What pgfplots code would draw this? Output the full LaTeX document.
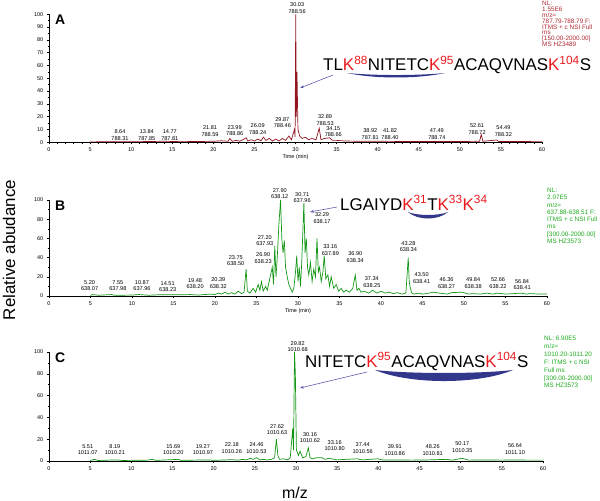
\documentclass[border=0pt]{standalone}
\usepackage{pgfplots}
\pgfplotsset{compat=1.18}
\usepackage{fontspec}
\setmainfont{Liberation Sans}
\usetikzlibrary{arrows.meta}

\definecolor{tracered}{RGB}{145,22,32}
\definecolor{textred}{RGB}{175,40,50}
\definecolor{tracegreen}{RGB}{20,150,20}
\definecolor{textgreen}{RGB}{30,170,30}
\definecolor{kred}{RGB}{235,25,30}
\definecolor{arcblue}{RGB}{50,55,140}
\definecolor{arrowblue}{RGB}{95,95,175}

\newcommand{\K}[1]{\textcolor{kred}{K\textsuperscript{#1}}}

\tikzset{pk/.style={font=\fontsize{5.6}{6.4}\selectfont, align=center, inner sep=0pt}}

\pgfplotsset{
  chrom/.style={
    scale only axis,
    anchor=south west,
    axis lines=left,
    axis line style={-, line width=0.5pt},
    xmin=0, xmax=60, ymin=0, ymax=100,
    xtick={0,5,...,60},
    minor x tick num=4,
    tick align=outside,
    major tick length=2.2bp,
    minor tick length=1.4bp,
    tick style={black, line width=0.4pt},
    ticklabel style={font=\fontsize{5.5}{6}\selectfont},
    /pgf/number format/assume math mode=true,
    xtick pos=bottom, ytick pos=left,
    clip=false,
    xlabel style={font=\fontsize{5.5}{6}\selectfont, yshift=4bp},
  },
}

\begin{document}
\begin{tikzpicture}
\path[use as bounding box] (0,0) rectangle (600bp,501bp);

% ---------- panel A ----------
\begin{axis}[chrom, at={(49bp,358.7bp)}, width=493bp, height=128bp,
  ytick={0,10,...,100}, minor y tick num=1, xlabel={Time (min)}]
\addplot[tracered, line width=0.7pt] coordinates {
  (5,0.3)(8,0.5)(10,0.4)(12,0.6)(14,0.8)(16,0.5)(18,0.6)(20,0.8)(21,1.2)
  (21.8,0.8)(22,3)(22.3,0.8)(22.8,1.5)(23.2,0.8)(23.6,2)(24,3.5)(24.2,1)
  (24.6,2)(25,1)(25.4,2.5)(25.8,1.2)(26.1,4)(26.4,1.5)(26.8,3)(27.2,1)
  (27.6,2.5)(28,1)(28.4,3)(28.8,1.5)(29.2,5)(29.5,2)(29.87,10)(29.95,4)
  (30.03,100)(30.1,20)(30.18,55)(30.3,10)(30.5,5)(30.8,3)(31.2,4)(31.6,2)
  (32,3)(32.5,2)(32.89,11)(33.1,2)(33.5,3)(34.15,3.5)(34.5,1.5)(35,1.5)
  (36,1)(38,0.8)(40,0.8)(42,0.7)(45,0.6)(48,0.7)(50,0.6)(52.4,0.8)
  (52.61,6)(52.8,0.8)(54.49,1.8)(54.7,0.7)(57,0.6)(60,0.5)
};
\node[pk] at (axis cs:8.64,5.7) {8.64\\788.31};
\node[pk] at (axis cs:11.9,5.7) {13.84\\787.85};
\node[pk] at (axis cs:14.7,5.7) {14.77\\787.81};
\node[pk] at (axis cs:19.6,8.8) {21.81\\788.59};
\node[pk] at (axis cs:22.6,9.2) {23.99\\788.86};
\node[pk] at (axis cs:25.4,10.4) {26.09\\788.24};
\node[pk] at (axis cs:28.4,15.4) {29.87\\788.46};
\node[pk] at (axis cs:30.2,105) {30.03\\788.56};
\node[pk] at (axis cs:33.6,17.4) {32.89\\788.53};
\node[pk] at (axis cs:34.6,8.4) {34.15\\788.66};
\node[pk] at (axis cs:39.1,6.5) {38.92\\787.81};
\node[pk] at (axis cs:41.5,6.5) {41.82\\788.40};
\node[pk] at (axis cs:47.2,6.5) {47.49\\788.74};
\node[pk] at (axis cs:52.1,10.4) {52.61\\788.72};
\node[pk] at (axis cs:55.3,8.8) {54.49\\788.32};
\end{axis}

% ---------- panel B ----------
\begin{axis}[chrom, at={(49bp,205bp)}, width=498bp, height=96bp,
  ytick={0,20,...,100}, minor y tick num=1, xlabel={Time (min)}]
\addplot[tracegreen, line width=0.7pt] coordinates {
  (5,0.5)(5.2,1.5)(6,0.8)(7.55,1.5)(8,0.7)(10,1)(10.87,1.5)(12,0.8)(13,1.2)
  (14.51,1.3)(16,1.2)(17,1.5)(18,1)(19.48,2)(20,1.5)(20.39,3)(20.8,2)(21.2,4)
  (21.6,2)(22,3.5)(22.4,2)(22.8,5)(23.2,2.5)(23.5,4)(23.75,28)(23.9,5)
  (24.2,3)(24.6,8)(24.9,4)(25.2,12)(25.4,6)(25.6,15)(25.8,5)(26.1,10)
  (26.3,6)(26.6,18)(26.9,30)(27.05,12)(27.2,52)(27.35,20)(27.5,40)(27.7,75)
  (27.9,100)(28.05,60)(28.2,45)(28.35,58)(28.5,30)(28.7,20)(28.9,12)(29.1,8)
  (29.3,4)(29.5,8)(29.7,25)(29.85,42)(30,15)(30.15,30)(30.3,10)(30.45,35)
  (30.71,97)(30.85,45)(31.0,60)(31.15,30)(31.3,22)(31.5,35)(31.7,15)
  (31.9,28)(32.1,20)(32.29,60)(32.45,25)(32.6,30)(32.8,15)(33.0,25)
  (33.16,42)(33.35,18)(33.6,22)(33.8,10)(34.0,20)(34.3,8)(34.6,12)(34.9,5)
  (35.2,8)(35.5,4)(35.8,6)(36.2,4)(36.6,8)(36.9,22)(37.1,6)(37.34,8)
  (37.6,4)(38,5)(38.5,3)(39,6)(39.5,3)(40,5)(40.5,3)(41,4)(41.5,2.5)
  (42,3.5)(42.5,2)(43,3)(43.28,40)(43.4,15)(43.5,10)(43.7,3)(44,2)(44.5,3)
  (45,2)(45.5,2.5)(46.36,4)(47,3)(48,2)(48.5,3.5)(49.84,4)(50.5,2)(51,2.5)
  (52,2)(52.66,3)(53.5,2)(54,3)(55,2)(56,2.5)(56.84,3)(57.5,2)(58,2.5)
  (59,2)(60,2)
};
\node[pk] at (axis cs:4.9,10.9) {5.20\\638.07};
\node[pk] at (axis cs:8.3,10.9) {7.55\\637.98};
\node[pk] at (axis cs:11.2,10.9) {10.87\\637.96};
\node[pk] at (axis cs:14.3,9.9) {14.51\\638.23};
\node[pk] at (axis cs:17.6,13) {19.48\\638.20};
\node[pk] at (axis cs:20.4,13.5) {20.39\\638.32};
\node[pk] at (axis cs:22.5,37) {23.75\\638.50};
\node[pk] at (axis cs:25.8,39.6) {26.90\\638.23};
\node[pk] at (axis cs:26,58) {27.20\\637.93};
\node[pk] at (axis cs:27.8,107) {27.90\\638.12};
\node[pk] at (axis cs:30.5,102.6) {30.71\\637.96};
\node[pk] at (axis cs:32.9,81) {32.29\\638.17};
\node[pk] at (axis cs:33.9,48) {33.16\\637.89};
\node[pk] at (axis cs:36.9,40.6) {36.90\\638.34};
\node[pk] at (axis cs:38.9,14.6) {37.34\\638.25};
\node[pk] at (axis cs:43.3,51.6) {43.28\\638.34};
\node[pk] at (axis cs:44.9,18.7) {43.50\\638.41};
\node[pk] at (axis cs:47.9,13.5) {46.36\\638.27};
\node[pk] at (axis cs:51.1,13.5) {49.84\\638.38};
\node[pk] at (axis cs:54.1,13.5) {52.66\\638.22};
\node[pk] at (axis cs:57.0,12) {56.84\\638.41};
\end{axis}

% ---------- panel C ----------
\begin{axis}[chrom, at={(49bp,40bp)}, width=494bp, height=109bp,
  ytick={0,20,...,100}, minor y tick num=1]
\addplot[tracegreen, line width=0.7pt] coordinates {
  (5,0.5)(5.51,1.5)(6,0.5)(8.19,1)(9,0.5)(12,0.8)(12.5,1.5)(13,0.6)
  (15.69,1.5)(16,0.6)(19.27,1)(20,0.6)(22.18,1.2)(23,0.8)(23.5,1.5)(24,1)
  (24.46,2.5)(24.8,1.5)(25.2,3)(25.6,1)(26,1.5)(26.5,1)(27,1.5)(27.4,3)
  (27.62,20)(27.8,5)(28,1.5)(28.5,2)(29,1)(29.3,3)(29.6,30)(29.7,10)
  (29.82,100)(29.92,80)(30.05,10)(30.16,8)(30.3,5)(30.5,9)(30.8,3)(31.2,4)
  (31.5,12)(31.7,3)(32,2)(32.5,3)(33.16,3)(33.5,1.5)(34,2.5)(35,1)(36,1.5)
  (37.44,2)(38,1)(39.91,2)(40.5,1)(42,1)(44,0.8)(46,1)(48.26,1.5)(49,0.8)
  (50.17,2.5)(51,0.8)(53,1)(55,0.8)(56.64,1)(58,0.8)(60,0.8)
};
\node[pk] at (axis cs:4.7,10.5) {5.51\\1011.07};
\node[pk] at (axis cs:8.0,10.5) {8.19\\1010.21};
\node[pk] at (axis cs:15.1,10.5) {15.69\\1010.20};
\node[pk] at (axis cs:18.7,10.5) {19.27\\1010.97};
\node[pk] at (axis cs:22.2,12) {22.18\\1010.26};
\node[pk] at (axis cs:25.2,12) {24.46\\1010.53};
\node[pk] at (axis cs:27.7,29) {27.62\\1010.63};
\node[pk] at (axis cs:30.2,105) {29.82\\1010.68};
\node[pk] at (axis cs:31.7,21.6) {30.16\\1010.62};
\node[pk] at (axis cs:34.7,14.2) {33.16\\1010.80};
\node[pk] at (axis cs:38.1,12) {37.44\\1010.56};
\node[pk] at (axis cs:42.0,10) {39.91\\1010.86};
\node[pk] at (axis cs:46.6,10) {48.26\\1010.81};
\node[pk] at (axis cs:50.2,12.8) {50.17\\1010.35};
\node[pk] at (axis cs:56.6,11) {56.64\\1011.10};
\end{axis}

% ---------- overlays (1 unit = 1 px of the reference, y upward) ----------
\begin{scope}[x=1bp, y=1bp]
  % panel letters
  \node[anchor=base west, inner sep=0, font=\fontsize{14}{14}\selectfont\bfseries] at (55,476) {A};
  \node[anchor=base west, inner sep=0, font=\fontsize{14}{14}\selectfont\bfseries] at (55,291) {B};
  \node[anchor=base west, inner sep=0, font=\fontsize{14}{14}\selectfont\bfseries] at (55,139) {C};

  % peptides
  \node[anchor=base west, inner sep=0, font=\fontsize{17}{17}\selectfont] at (323,430)
    {TL\K{88}NITETC\K{95}ACAQVNAS\K{104}S};
  \node[anchor=base west, inner sep=0, font=\fontsize{17}{17}\selectfont] at (340,291)
    {LGAIYD\K{31}T\K{33}\K{34}};
  \node[anchor=base west, inner sep=0, font=\fontsize{17}{17}\selectfont] at (305,134)
    {NITETC\K{95}ACAQVNAS\K{104}S};

  % cross-link arcs
  \fill[arcblue] (347,428) .. controls (375,422) and (417,422) .. (445,428)
                 .. controls (417,425.3) and (375,425.3) .. cycle;
  \fill[arcblue] (408,289) .. controls (418,280.3) and (438,280.3) .. (448,289)
                 .. controls (438,285) and (418,285) .. cycle;
  \fill[arcblue] (375,131) .. controls (410,116.3) and (478,116.3) .. (513,131)
                 .. controls (478,127) and (410,127) .. cycle;

  % arrows
  \draw[arrowblue, line width=0.6pt, -{Stealth[length=4bp,width=3bp]}] (333,426) -- (300,413);
  \draw[arrowblue, line width=0.6pt, -{Stealth[length=4bp,width=3bp]}] (337,294) -- (310,289);
  \draw[arrowblue, line width=0.6pt, -{Stealth[length=4bp,width=3bp]}] (367,129) -- (300,113);

  % scan info
  \node[anchor=north west, inner sep=0, align=left, text=textred,
        font=\fontsize{6.4}{5.9}\selectfont] at (542,500)
    {NL:\\1.55E6\\m/z=\\787.79-788.79 F:\\ITMS + c NSI Full\\ms\\{[}150.00-2000.00{]}\\MS HZ3489};
  \node[anchor=north west, inner sep=0, align=left, text=textgreen,
        font=\fontsize{6.4}{7.3}\selectfont] at (547,313)
    {NL:\\2.07E5\\m/z=\\637.88-638.51 F:\\ITMS + c NSI Full\\ms\\{[}300.00-2000.00{]}\\MS HZ3573};
  \node[anchor=north west, inner sep=0, align=left, text=textgreen,
        font=\fontsize{6.4}{7.9}\selectfont] at (544,165)
    {NL: 6.90E5\\m/z=\\1010.20-1011.20\\F: ITMS + c NSI\\Full ms\\{[}300.00-2000.00{]}\\MS HZ3573};

  % shared axis titles
  \node[rotate=90, inner sep=0, font=\fontsize{17}{17}\selectfont] at (9,251) {Relative abudance};
  \node[anchor=base, inner sep=0, font=\fontsize{16}{16}\selectfont] at (295,3) {m/z};
\end{scope}
\end{tikzpicture}
\end{document}
